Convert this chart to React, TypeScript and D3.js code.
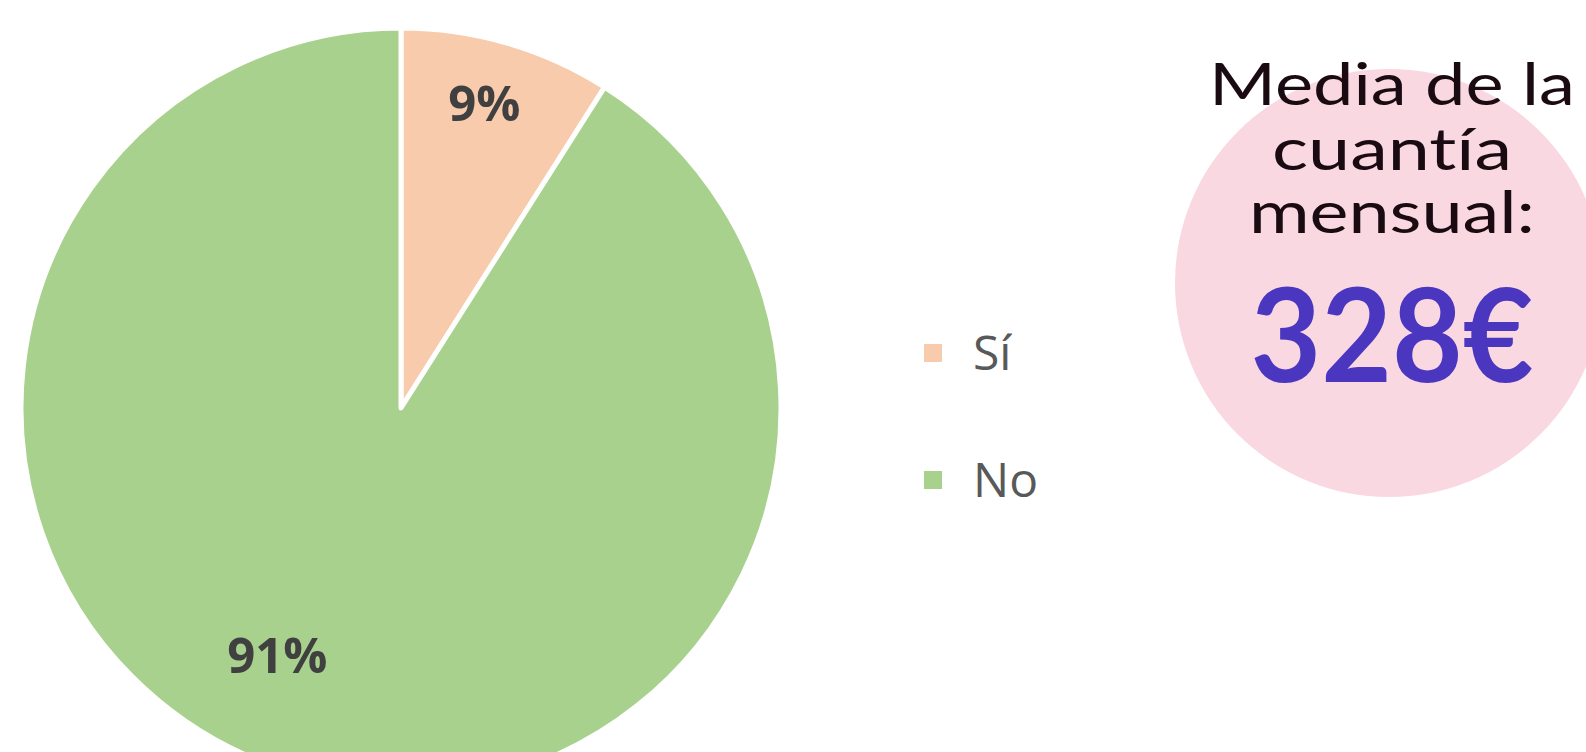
import React from "react";
import * as d3 from "d3";

const categories = ["Sí", "No"];
const values = [9, 91];
const colors = ["#F8CBAD", "#A9D18E"];
const titleLines = ["Media de la", "cuantía", "mensual:"];
const highlightValue = "328€";

const W = 1586;
const H = 752;

export default function App() {
  const cx = 401;
  const cy = 408;
  const r = 380;

  const pie = d3.pie<number>().sort(null).value((d) => d)(values);
  const arc = d3.arc<d3.PieArcDatum<number>>().innerRadius(0).outerRadius(r);

  // label placement (angle offset in degrees, radius factor) per slice — layout only
  const labelLayout = [
    { dAng: -0.9, rf: 0.83 },
    { dAng: 10.3, rf: 0.73 },
  ];

  const legendX = 933;
  const legendY0 = 353;
  const legendStep = 127;

  const textCx = 1392;
  const titleBase = [105, 170, 233];
  const titleLen = [366, 240, 286];

  return (
    <svg
      width={W}
      height={H}
      style={{ position: "absolute", left: 0, top: 0, display: "block" }}
    >
      <rect width={W} height={H} fill="#ffffff" />
      <g transform={`translate(${cx},${cy})`}>
        {pie.map((p, i) => (
          <path
            key={i}
            d={arc(p) || ""}
            fill={colors[i]}
            stroke="#ffffff"
            strokeWidth={5}
            strokeLinejoin="round"
          />
        ))}
        {pie.map((p, i) => {
          const mid = (p.startAngle + p.endAngle) / 2 + (labelLayout[i].dAng * Math.PI) / 180;
          const rr = r * labelLayout[i].rf;
          const x = Math.sin(mid) * rr;
          const y = -Math.cos(mid) * rr;
          return (
            <text
              key={"l" + i}
              x={x}
              y={y}
              dy="0.35em"
              textAnchor="middle"
              fontFamily="'Open Sans', sans-serif"
              fontWeight={700}
              fontSize={49}
              fill="#404040"
            >
              {`${values[i]}%`}
            </text>
          );
        })}
      </g>

      {categories.map((c, i) => (
        <g key={"lg" + i} transform={`translate(${legendX},${legendY0 + i * legendStep})`}>
          <rect x={-9} y={-9} width={18} height={18} fill={colors[i]} />
          <text
            x={40}
            y={0}
            dy="0.36em"
            fontFamily="'Open Sans', sans-serif"
            fontSize={48}
            fill="#595959"
          >
            {c}
          </text>
        </g>
      ))}

      <circle cx={1389} cy={283} r={214} fill="#FAD8E2" />
      {titleLines.map((t, i) => (
        <text
          key={"t" + i}
          x={textCx}
          y={titleBase[i]}
          textAnchor="middle"
          fontFamily="Lato, sans-serif"
          fontSize={58}
          fill="#1a0b12"
          textLength={titleLen[i]}
          lengthAdjust="spacingAndGlyphs"
          style={{ fontVariantLigatures: "none", fontFeatureSettings: "'liga' 0, 'dlig' 0" }}
        >
          {t}
        </text>
      ))}
      <text
        x={textCx}
        y={382}
        textAnchor="middle"
        fontFamily="Lato, sans-serif"
        fontWeight={700}
        fontSize={130}
        fill="#4A36BF"
        textLength={283}
        lengthAdjust="spacingAndGlyphs"
      >
        {highlightValue}
      </text>
    </svg>
  );
}
